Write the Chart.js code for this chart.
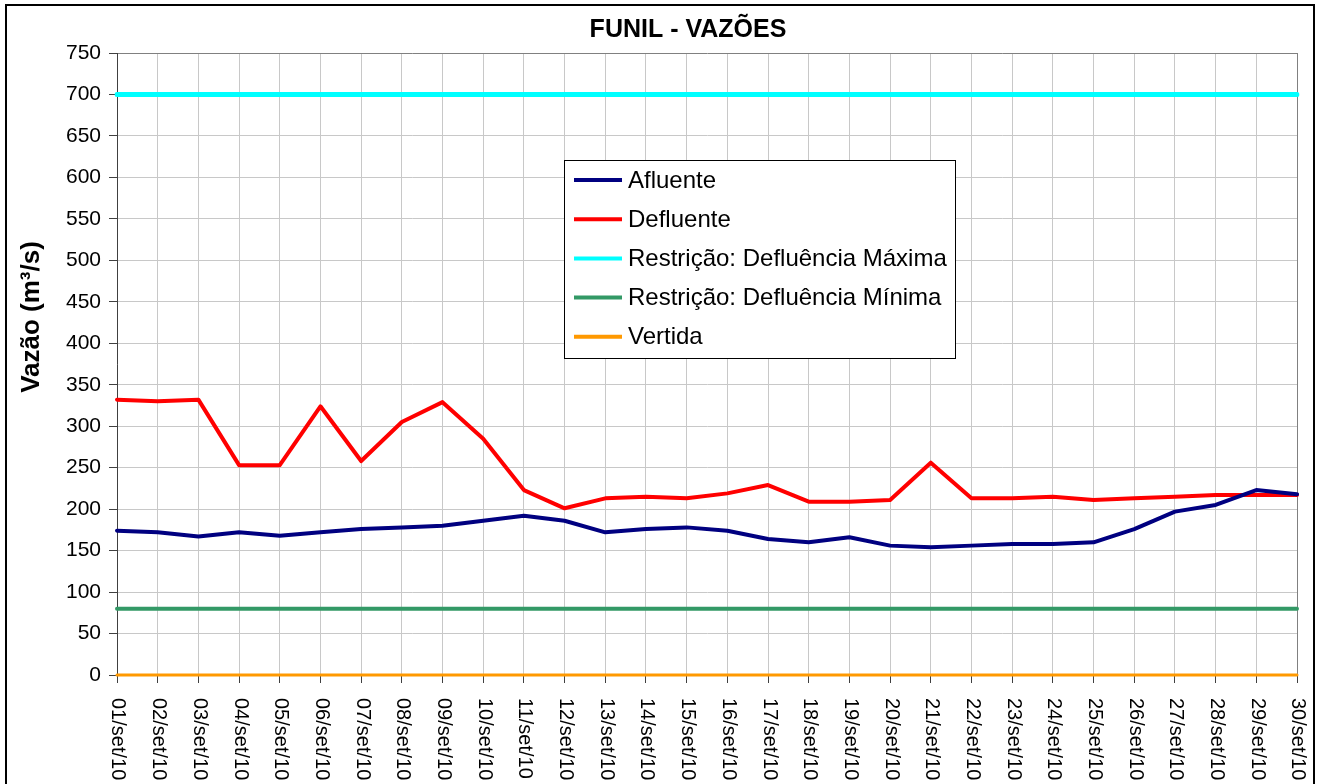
<!DOCTYPE html>
<html>
<head>
<meta charset="utf-8">
<script src="https://cdn.jsdelivr.net/npm/chart.js@4.4.0/dist/chart.umd.min.js"></script>
<style>
  html, body { margin: 0; padding: 0; background: #fff; }
  canvas { display: block; }
</style>
</head>
<body>
<canvas id="chart" width="1320" height="784"></canvas>
<script>
const labels = ['01/set/10', '02/set/10', '03/set/10', '04/set/10', '05/set/10', '06/set/10', '07/set/10', '08/set/10', '09/set/10', '10/set/10',
  '11/set/10', '12/set/10', '13/set/10', '14/set/10', '15/set/10', '16/set/10', '17/set/10', '18/set/10', '19/set/10', '20/set/10',
  '21/set/10', '22/set/10', '23/set/10', '24/set/10', '25/set/10', '26/set/10', '27/set/10', '28/set/10', '29/set/10', '30/set/10'];

const afluente = [174, 172, 167, 172, 168, 172, 176, 178, 180, 186, 192, 186, 172, 176, 178, 174, 164, 160, 166, 156,
  154, 156, 158, 158, 160, 176, 197, 205, 223, 218];
const defluente = [332, 330, 332, 253, 253, 324, 258, 305, 329, 285, 223, 201, 213, 215, 213, 219, 229, 209, 209, 211,
  256, 213, 213, 215, 211, 213, 215, 217, 217, 217];
const defluenciaMaxima = [700, 700, 700, 700, 700, 700, 700, 700, 700, 700, 700, 700, 700, 700, 700,
  700, 700, 700, 700, 700, 700, 700, 700, 700, 700, 700, 700, 700, 700, 700];
const defluenciaMinima = [80, 80, 80, 80, 80, 80, 80, 80, 80, 80, 80, 80, 80, 80, 80,
  80, 80, 80, 80, 80, 80, 80, 80, 80, 80, 80, 80, 80, 80, 80];
const vertida = [0, 0, 0, 0, 0, 0, 0, 0, 0, 0, 0, 0, 0, 0, 0,
  0, 0, 0, 0, 0, 0, 0, 0, 0, 0, 0, 0, 0, 0, 0];

const FONT = '"Liberation Sans", Arial, sans-serif';

// title, axis title, rotated date labels, legend box and outer frame
const decor = {
  id: 'decor',
  beforeDraw(chart) {
    const ctx = chart.ctx;
    ctx.save();
    ctx.fillStyle = '#fff';
    ctx.fillRect(0, 0, chart.width, chart.height);
    ctx.restore();
  },
  afterDraw(chart) {
    const ctx = chart.ctx;
    const x = chart.scales.x;
    ctx.save();

    // x labels, rotated clockwise
    ctx.font = '20px ' + FONT;
    ctx.fillStyle = '#000';
    ctx.textAlign = 'left';
    ctx.textBaseline = 'middle';
    labels.forEach((lab, i) => {
      ctx.save();
      ctx.translate(x.getPixelForValue(i) + 1, x.top + 23);
      ctx.rotate(Math.PI / 2);
      ctx.fillText(lab, 0, 0);
      ctx.restore();
    });

    // chart title
    ctx.font = 'bold 25px ' + FONT;
    ctx.textAlign = 'center';
    ctx.fillText('FUNIL - VAZÕES', 688, 30);

    // y axis title
    ctx.save();
    ctx.translate(32, 317);
    ctx.rotate(-Math.PI / 2);
    ctx.font = 'bold 26px ' + FONT;
    ctx.fillText('Vazão (m³/s)', 0, 0);
    ctx.restore();

    // legend
    const lx = 564, ly = 160, lw = 391, lh = 198;
    ctx.fillStyle = '#fff';
    ctx.fillRect(lx, ly, lw, lh);
    ctx.strokeStyle = '#000';
    ctx.lineWidth = 1;
    ctx.strokeRect(lx + 0.5, ly + 0.5, lw, lh);
    ctx.font = '24px ' + FONT;
    ctx.textAlign = 'left';
    chart.data.datasets.forEach((ds, i) => {
      const yy = ly + 20 + i * 39.2;
      ctx.strokeStyle = ds.borderColor;
      ctx.lineWidth = 4;
      ctx.beginPath();
      ctx.moveTo(lx + 10, yy);
      ctx.lineTo(lx + 58, yy);
      ctx.stroke();
      ctx.fillStyle = '#000';
      ctx.fillText(ds.label, lx + 64, yy + 1);
    });

    // outer frame
    ctx.strokeStyle = '#000';
    ctx.lineWidth = 2;
    ctx.strokeRect(6, 5, 1308, 800);
    ctx.restore();
  }
};

const ctx = document.getElementById('chart').getContext('2d');
const chart = new Chart(ctx, {
  type: 'line',
  data: {
    labels: labels,
    datasets: [
      { label: 'Afluente', data: afluente, borderColor: '#000080' },
      { label: 'Defluente', data: defluente, borderColor: '#ff0000' },
      { label: 'Restrição: Defluência Máxima', data: defluenciaMaxima, borderColor: '#00ffff', borderWidth: 5 },
      { label: 'Restrição: Defluência Mínima', data: defluenciaMinima, borderColor: '#339966' },
      { label: 'Vertida', data: vertida, borderColor: '#ff9900', borderWidth: 3, clip: 6 }
    ]
  },
  options: {
    responsive: false,
    animation: false,
    devicePixelRatio: 1,
    layout: { padding: { top: 53, right: 23, left: 0, bottom: 0 } },
    elements: {
      point: { radius: 0, hoverRadius: 0 },
      line: { tension: 0, borderWidth: 4, borderCapStyle: 'round', borderJoinStyle: 'round' }
    },
    plugins: {
      legend: { display: false },
      title: { display: false },
      tooltip: { enabled: false }
    },
    scales: {
      x: {
        offset: false,
        ticks: { display: false, autoSkip: false },
        grid: {
          offset: false,
          color: c => (c.index === labels.length - 1 ? '#808080' : '#c8c8c8'),
          tickColor: '#404040',
          tickLength: 8
        },
        border: { color: '#404040', width: 1 },
        afterFit(s) { s.height = 109; }
      },
      y: {
        min: 0,
        max: 750,
        ticks: { stepSize: 50, color: '#000', padding: 8, font: { family: FONT, size: 21 } },
        grid: {
          color: c => (c.tick && c.tick.value === 750 ? '#808080' : '#c8c8c8'),
          tickColor: '#404040',
          tickLength: 8
        },
        border: { color: '#404040', width: 1 },
        afterFit(s) { s.width = 117; }
      }
    }
  },
  plugins: [decor]
});
</script>
</body>
</html>
